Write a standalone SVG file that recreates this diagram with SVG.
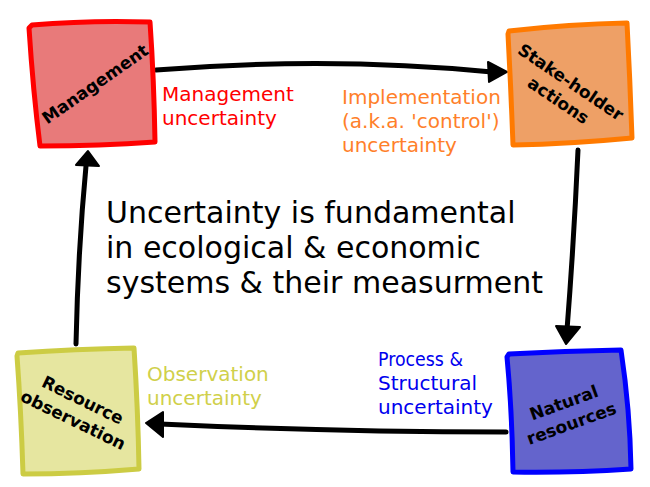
<svg xmlns="http://www.w3.org/2000/svg" width="650" height="487" viewBox="0 0 650 487">
<style>
.box{stroke-width:5;stroke-linejoin:round}
.bt{font-family:"DejaVu Sans",sans-serif;font-weight:bold;font-size:17px;fill:#000;text-anchor:middle}
.lb{font-family:"DejaVu Sans",sans-serif;font-size:20px}
.ct{font-family:"DejaVu Sans",sans-serif;font-size:30px;fill:#000}
.cn{fill:none;stroke:#000;stroke-width:5;stroke-linecap:round}
.ah{fill:#000;stroke:#000;stroke-width:2;stroke-linejoin:round}
</style>
<rect width="650" height="487" fill="#fff"/>
<g id="connectors">
<path class="cn" d="M156,70 Q330,56 492,72"/>
<path class="ah" d="M507,72 L488,62 L489,82 Z"/>
<path class="cn" d="M578,150 Q574,240 567,330"/>
<path class="ah" d="M566,344 L556,326 L580,327 Z"/>
<path class="cn" d="M506,432 Q330,432 160,424"/>
<path class="ah" d="M146,423 L163,412 L163,437 Z"/>
<path class="cn" d="M76,344 Q78,250 86,166"/>
<path class="ah" d="M88,151 L76,165 L99,166 Z"/>
</g>
<g id="management">
<path class="box" fill="#e87a7a" stroke="#ff0000" d="M32,25 Q90,20 150,22 Q154,80 155,142 Q100,146 40,146 Q33,90 29,28 Z"/>
<text class="bt" transform="translate(95,84) rotate(-35)" y="6">Management</text>
</g>
<g id="stakeholder">
<path class="box" fill="#eea066" stroke="#ff7a00" d="M509,31 Q570,24 627,23 Q630,80 632,138 Q570,144 513,145 Q511,90 508,34 Z"/>
<g transform="translate(564,92) rotate(34)">
<text class="bt" y="-6">Stake-holder</text>
<text class="bt" y="16">actions</text>
</g>
</g>
<g id="observation">
<path class="box" fill="#e6e6a0" stroke="#cccc44" d="M18,353 Q75,349 134,348 Q138,410 139,469 Q80,474 23,474 Q21,410 17,356 Z"/>
<g transform="translate(78,410) rotate(26)">
<text class="bt" y="-5">Resource</text>
<text class="bt" y="17">observation</text>
</g>
</g>
<g id="natural">
<path class="box" fill="#6464cc" stroke="#0000ff" d="M509,354 Q565,351 621,350 Q630,410 631,469 Q570,473 513,472 Q512,410 507,357 Z"/>
<g transform="translate(568,414) rotate(-20)">
<text class="bt" y="-6">Natural</text>
<text class="bt" y="16">resources</text>
</g>
</g>
<g id="labels">
<text class="lb" fill="#ff0000" x="162" y="101">Management</text>
<text class="lb" fill="#ff0000" x="162" y="125">uncertainty</text>
<text class="lb" fill="#ff7f2a" x="342" y="104">Implementation</text>
<text class="lb" fill="#ff7f2a" x="342" y="128">(a.k.a. 'control')</text>
<text class="lb" fill="#ff7f2a" x="342" y="152">uncertainty</text>
<text class="lb" fill="#d0d04a" x="147" y="381">Observation</text>
<text class="lb" fill="#d0d04a" x="147" y="405">uncertainty</text>
<text class="lb" fill="#0000ee" x="378" y="366" textLength="85" lengthAdjust="spacingAndGlyphs">Process &amp;</text>
<text class="lb" fill="#0000ee" x="378" y="390">Structural</text>
<text class="lb" fill="#0000ee" x="378" y="414">uncertainty</text>
</g>
<g id="center">
<text class="ct" x="106" y="223">Uncertainty is fundamental</text>
<text class="ct" x="106" y="258">in ecological &amp; economic</text>
<text class="ct" x="106" y="293">systems &amp; their measurment</text>
</g>
</svg>
